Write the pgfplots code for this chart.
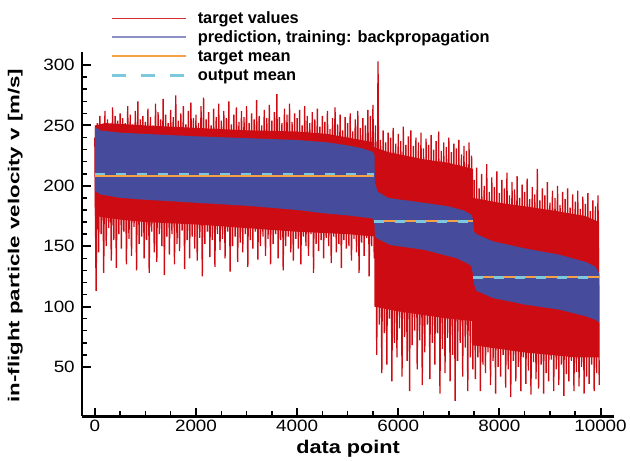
\documentclass[border=0pt]{standalone}
\usepackage{fontspec}
\setmainfont{Liberation Sans}
\newfontfamily\tickfont[FakeStretch=1.15]{Liberation Sans}
\newfontfamily\xlabfont[FakeStretch=1.18]{Liberation Sans Bold}
\newfontfamily\ylabfont[FakeStretch=1.4]{Liberation Sans Bold}
\newfontfamily\legfont{Liberation Sans Bold}
\usepackage{pgfplots}
\pgfplotsset{compat=1.18}

\definecolor{tvred}{HTML}{CC0C12}
\definecolor{predblue}{HTML}{464C9B}
\definecolor{legblue}{HTML}{8C90C6}
\definecolor{meanorange}{HTML}{F4A147}
\definecolor{meancyan}{HTML}{7CC9DD}

\begin{document}
\begin{tikzpicture}
\begin{axis}[
    scale only axis,
    width=534.7bp, height=366bp,
    xmin=-260, xmax=10276,
    ymin=9, ymax=311,
    every non boxed x axis/.append style={xtick align=inside},
    every non boxed y axis/.append style={ytick align=inside},
    axis x line=bottom, axis y line=left,
    axis line style={-, line width=2.3bp},
    axis on top,
    xtick={0,2000,...,10000},
    ytick={50,100,...,300},
    minor x tick num=3,
    minor y tick num=4,
    xtick align=inside, ytick align=inside,
    major tick length=9bp,
    minor tick length=5bp,
    major tick style={line width=2bp, black},
    minor tick style={line width=1.5bp, black},
    scaled x ticks=false,
    /pgf/number format/set thousands separator={},
    /pgf/number format/assume math mode=true,
    ticklabel style={font=\tickfont\fontsize{16.5}{16.5}\selectfont},
    xticklabel style={yshift=-0.5bp},
    yticklabel style={xshift=-3.5bp},
    xlabel={data point},
    ylabel={in-flight particle velocity v [m/s]},
    xlabel style={font=\xlabfont\fontsize{18.5}{18.5}\selectfont,
        at={(axis description cs:0.5,-0.101)}, anchor=base},
    ylabel style={font=\ylabfont\fontsize{16}{16}\selectfont,
        at={(axis description cs:-0.1169,0.496)}, anchor=base},
    legend style={draw=none, fill=none, inner sep=0pt, outer sep=0pt,
        at={(axis description cs:0.0542,1.1112)}, anchor=north west,
        font=\legfont\fontsize{16.5}{16.5}\selectfont,
        row sep=3.5bp,
        nodes={inner sep=0pt, text height=12bp, text depth=3.5bp},
        /tikz/every odd column/.append style={column sep=11bp}},
    legend cell align=left,
    legend image code/.code={\draw[#1] (0bp,0.5bp) -- (74bp,0.5bp);},
]
\addlegendimage{line width=1.2bp, color=tvred!85!white}
\addlegendentry{target values}
\addlegendimage{line width=2bp, color=legblue}
\addlegendentry{prediction, training: backpropagation}
\addlegendimage{line width=2.2bp, color=meanorange}
\addlegendentry{target mean}
\addlegendimage{line width=2.5bp, color=meancyan, dash pattern=on 14bp off 15bp}
\addlegendentry{output mean}

% dense part of the target values
\addplot[fill=tvred, draw=none, forget plot] coordinates {
(0,250)(200,252)(1000,250)(2000,248)(3000,246)(4000,245)(4600,243)(5000,240)(5530,236)
(5530,232)(5800,228)(6500,222)(7000,219)(7480,214)
(7480,190)(8000,186)(9000,180)(9700,175)(9975,170)
(9975,58)(9500,58)(8500,62)(7480,68)
(7480,88)(7000,90)(6500,93)(6000,96)(5530,100)
(5530,158)(5000,160)(4000,162)(3000,165)(2000,168)(1000,170)(500,172)(0,175)
};

% target values, spikes
\addplot[tvred, line width=1.35bp, line join=bevel, forget plot] coordinates {
(0,240)(25,113)(50,252)(75,145)(100,258)(125,160)(150,250)(175,128)(200,262)(225,150)(250,255)(275,165)(300,249)(325,138)(350,265)(375,155)(400,258)(425,132)(450,254)(475,160)
(500,260)(525,148)(550,256)(575,162)(600,252)(625,135)(650,266)(675,156)(700,259)(725,142)(750,251)(775,166)(800,262)(825,130)(850,270)(875,152)(900,255)(925,158)(950,258)(975,140)
(1000,253)(1025,155)(1050,264)(1075,128)(1100,257)(1125,162)(1150,250)(1175,145)(1200,268)(1225,137)(1250,261)(1275,160)(1300,255)(1325,150)(1350,272)(1375,126)(1400,259)(1425,158)(1450,252)(1475,143)
(1500,263)(1525,160)(1550,257)(1575,135)(1600,275)(1625,152)(1650,254)(1675,146)(1700,260)(1725,163)(1750,266)(1775,131)(1800,251)(1825,155)(1850,262)(1875,140)(1900,269)(1925,158)(1950,256)(1975,148)
(2000,259)(2025,138)(2050,252)(2075,157)(2100,266)(2125,125)(2150,273)(2175,152)(2200,255)(2225,162)(2250,261)(2275,141)(2300,250)(2325,155)(2350,264)(2375,133)(2400,257)(2425,160)(2450,268)(2475,147)
(2500,254)(2525,156)(2550,262)(2575,140)(2600,256)(2625,162)(2650,270)(2675,129)(2700,251)(2725,150)(2750,259)(2775,158)(2800,265)(2825,137)(2850,253)(2875,153)(2900,262)(2925,145)(2950,257)(2975,160)
(3000,266)(3025,133)(3050,252)(3075,155)(3100,260)(3125,148)(3150,255)(3175,162)(3200,271)(3225,139)(3250,258)(3275,150)(3300,250)(3325,158)(3350,263)(3375,142)(3400,256)(3425,156)(3450,267)(3475,135)
(3500,254)(3525,152)(3550,261)(3575,160)(3600,276)(3625,140)(3650,257)(3675,155)(3700,252)(3725,130)(3750,264)(3775,150)(3800,259)(3825,158)(3850,268)(3875,145)(3900,253)(3925,138)(3950,260)(3975,156)
(4000,256)(4025,148)(4050,263)(4075,135)(4100,250)(4125,158)(4150,266)(4175,150)(4200,258)(4225,142)(4250,252)(4275,160)(4300,261)(4325,128)(4350,255)(4375,152)(4400,264)(4425,146)(4450,249)(4475,155)
(4500,258)(4525,140)(4550,253)(4575,157)(4600,262)(4625,150)(4650,247)(4675,136)(4700,256)(4725,158)(4750,265)(4775,145)(4800,251)(4825,152)(4850,259)(4875,132)(4900,246)(4925,155)(4950,257)(4975,148)
(5000,252)(5025,150)(5050,260)(5075,138)(5100,245)(5125,156)(5150,255)(5175,145)(5200,262)(5225,128)(5250,248)(5275,153)(5300,256)(5325,142)(5350,250)(5375,157)(5400,263)(5425,125)(5450,258)(5475,150)
(5500,267)(5525,140)
(5550,250)(5575,60)(5600,303)(5625,85)(5650,238)(5675,45)(5700,246)(5725,78)(5750,236)(5775,52)(5800,244)(5825,90)(5850,240)(5875,38)(5900,248)(5925,70)(5950,235)(5975,58)
(6000,243)(6025,82)(6050,237)(6075,42)(6100,249)(6125,75)(6150,234)(6175,55)(6200,241)(6225,30)(6250,246)(6275,68)(6300,233)(6325,80)(6350,240)(6375,48)(6400,236)(6425,72)(6450,244)(6475,35)
(6500,231)(6525,62)(6550,239)(6575,85)(6600,234)(6625,40)(6650,242)(6675,70)(6700,230)(6725,52)(6750,237)(6775,78)(6800,245)(6825,28)(6850,229)(6875,65)(6900,236)(6925,45)(6950,232)(6975,74)
(7000,240)(7025,38)(7050,228)(7075,60)(7100,235)(7125,22)(7150,231)(7175,55)(7200,238)(7225,70)(7250,226)(7275,42)(7300,233)(7325,66)(7350,229)(7375,30)(7400,236)(7425,58)(7450,225)(7475,48)
(7500,205)(7525,40)(7550,215)(7575,58)(7600,198)(7625,30)(7650,210)(7675,52)(7700,200)(7725,45)(7750,218)(7775,62)(7800,195)(7825,35)(7850,207)(7875,55)(7900,199)(7925,28)(7950,212)(7975,50)
(8000,194)(8025,42)(8050,205)(8075,60)(8100,198)(8125,33)(8150,211)(8175,48)(8200,192)(8225,25)(8250,203)(8275,55)(8300,197)(8325,38)(8350,208)(8375,50)(8400,190)(8425,30)(8450,201)(8475,58)
(8500,195)(8525,36)(8550,206)(8575,47)(8600,189)(8625,27)(8650,199)(8675,54)(8700,193)(8725,40)(8750,214)(8775,32)(8800,188)(8825,52)(8850,198)(8875,28)(8900,192)(8925,45)(8950,203)(8975,38)
(9000,186)(9025,56)(9050,196)(9075,30)(9100,190)(9125,48)(9150,200)(9175,35)(9200,184)(9225,52)(9250,195)(9275,26)(9300,189)(9325,44)(9350,198)(9375,38)(9400,182)(9425,55)(9450,193)(9475,30)
(9500,187)(9525,46)(9550,196)(9575,34)(9600,181)(9625,50)(9650,191)(9675,28)(9700,185)(9725,42)(9750,194)(9775,36)(9800,179)(9825,52)(9850,188)(9875,30)(9900,183)(9925,45)(9950,192)(9975,35)
};

% prediction band
\addplot[fill=predblue, draw=none, forget plot] coordinates {
(0,249)(100,246)(500,244)(1000,243)(2000,241)(3000,239.5)(4000,238)(4600,236)(5000,233.5)(5300,231)(5500,228)(5530,226)
(5540,202)(5600,195)(5800,190)(6500,186)(7000,183)(7300,179.5)(7450,176)(7480,172)
(7500,162)(7550,160)(7876,154)(8529,148)(9183,143)(9706,137)(9900,133)(9980,127)
(9980,87)(9900,89)(9706,92)(9183,97.5)(8529,101.5)(7876,107)(7550,113)(7500,118)(7480,126)
(7450,133)(7400,135)(7157,140)(6510,147)(5843,151)(5600,156)(5540,158)
(5530,168)(5490,173)(5000,175.5)(4600,177)(4000,180)(3000,183.5)(2000,186)(1000,188.5)(500,190)(100,193)(0,196)
};

% target mean
\addplot[meanorange, line width=2.2bp, forget plot] coordinates {(0,208.3)(5530,208.3)};
\addplot[meanorange, line width=2.2bp, forget plot] coordinates {(5530,171.1)(7480,171.1)};
\addplot[meanorange, line width=2.2bp, forget plot] coordinates {(7480,124.5)(9985,124.5)};
% output mean
\addplot[meancyan, line width=2.5bp, dash pattern=on 10bp off 11bp, forget plot] coordinates {(0,209.7)(5530,209.7)};
\addplot[meancyan, line width=2.5bp, dash pattern=on 10bp off 11bp, forget plot] coordinates {(5530,170.5)(7480,170.5)};
\addplot[meancyan, line width=2.5bp, dash pattern=on 10bp off 11bp, forget plot] coordinates {(7480,124)(9985,124)};
\end{axis}
\path ([xshift=-82bp,yshift=-41bp]current axis.south west)
    rectangle ([xshift=13.3bp,yshift=52bp]current axis.north east);
\end{tikzpicture}
\end{document}
